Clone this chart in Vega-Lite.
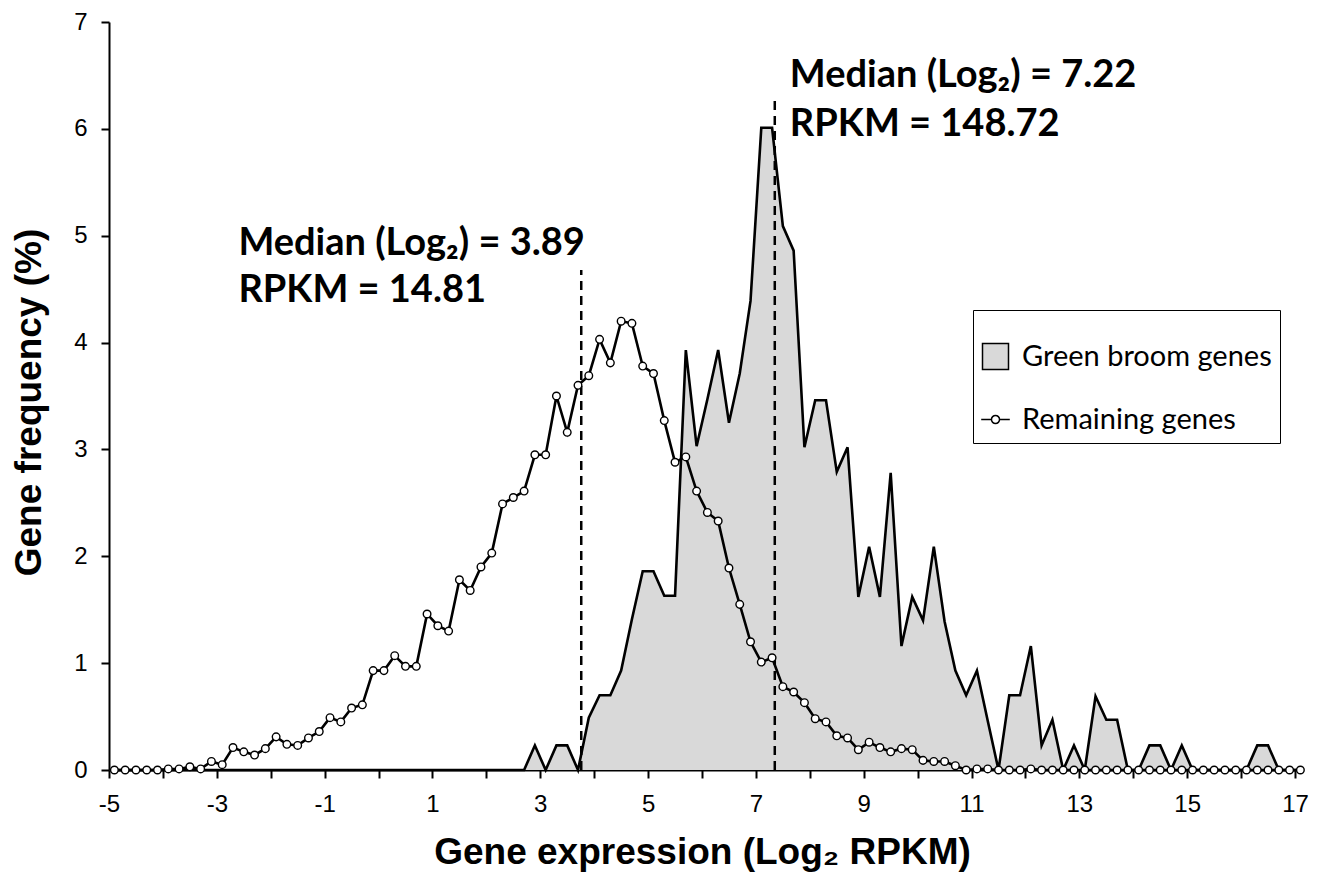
{
  "$schema": "https://vega.github.io/schema/vega-lite/v6.json",
  "width": 1186,
  "height": 748,
  "autosize": {"type": "none"},
  "padding": {"left": 109, "top": 22, "right": 28, "bottom": 105},
  "background": "white",
  "config": {
    "view": {"stroke": null},
    "axis": {"grid": false}
  },
  "datasets": {
    "hist": [
      {"x": -4.9, "green": 0, "remaining": 0},
      {"x": -4.7, "green": 0, "remaining": 0},
      {"x": -4.5, "green": 0, "remaining": 0},
      {"x": -4.3, "green": 0, "remaining": 0},
      {"x": -4.1, "green": 0, "remaining": 0},
      {"x": -3.9, "green": 0, "remaining": 0.01},
      {"x": -3.7, "green": 0, "remaining": 0.01},
      {"x": -3.5, "green": 0, "remaining": 0.03},
      {"x": -3.3, "green": 0, "remaining": 0.01},
      {"x": -3.1, "green": 0, "remaining": 0.08},
      {"x": -2.9, "green": 0, "remaining": 0.05},
      {"x": -2.7, "green": 0, "remaining": 0.21},
      {"x": -2.5, "green": 0, "remaining": 0.17},
      {"x": -2.3, "green": 0, "remaining": 0.14},
      {"x": -2.1, "green": 0, "remaining": 0.2},
      {"x": -1.9, "green": 0, "remaining": 0.31},
      {"x": -1.7, "green": 0, "remaining": 0.24},
      {"x": -1.5, "green": 0, "remaining": 0.23},
      {"x": -1.3, "green": 0, "remaining": 0.3},
      {"x": -1.1, "green": 0, "remaining": 0.36},
      {"x": -0.9, "green": 0, "remaining": 0.49},
      {"x": -0.7, "green": 0, "remaining": 0.45},
      {"x": -0.5, "green": 0, "remaining": 0.58},
      {"x": -0.3, "green": 0, "remaining": 0.61},
      {"x": -0.1, "green": 0, "remaining": 0.93},
      {"x": 0.1, "green": 0, "remaining": 0.93},
      {"x": 0.3, "green": 0, "remaining": 1.07},
      {"x": 0.5, "green": 0, "remaining": 0.97},
      {"x": 0.7, "green": 0, "remaining": 0.97},
      {"x": 0.9, "green": 0, "remaining": 1.46},
      {"x": 1.1, "green": 0, "remaining": 1.35},
      {"x": 1.3, "green": 0, "remaining": 1.3},
      {"x": 1.5, "green": 0, "remaining": 1.78},
      {"x": 1.7, "green": 0, "remaining": 1.68},
      {"x": 1.9, "green": 0, "remaining": 1.9},
      {"x": 2.1, "green": 0, "remaining": 2.03},
      {"x": 2.3, "green": 0, "remaining": 2.49},
      {"x": 2.5, "green": 0, "remaining": 2.55},
      {"x": 2.7, "green": 0, "remaining": 2.61},
      {"x": 2.9, "green": 0.23, "remaining": 2.95},
      {"x": 3.1, "green": 0, "remaining": 2.95},
      {"x": 3.3, "green": 0.23, "remaining": 3.5},
      {"x": 3.5, "green": 0.23, "remaining": 3.16},
      {"x": 3.7, "green": 0, "remaining": 3.6},
      {"x": 3.9, "green": 0.49, "remaining": 3.69},
      {"x": 4.1, "green": 0.7, "remaining": 4.03},
      {"x": 4.3, "green": 0.7, "remaining": 3.81},
      {"x": 4.5, "green": 0.93, "remaining": 4.2},
      {"x": 4.7, "green": 1.41, "remaining": 4.18},
      {"x": 4.9, "green": 1.86, "remaining": 3.78},
      {"x": 5.1, "green": 1.86, "remaining": 3.71},
      {"x": 5.3, "green": 1.63, "remaining": 3.27},
      {"x": 5.5, "green": 1.63, "remaining": 2.88},
      {"x": 5.7, "green": 3.93, "remaining": 2.93},
      {"x": 5.9, "green": 3.03, "remaining": 2.61},
      {"x": 6.1, "green": 3.47, "remaining": 2.41},
      {"x": 6.3, "green": 3.93, "remaining": 2.33},
      {"x": 6.5, "green": 3.25, "remaining": 1.89},
      {"x": 6.7, "green": 3.71, "remaining": 1.55},
      {"x": 6.9, "green": 4.39, "remaining": 1.2},
      {"x": 7.1, "green": 6.01, "remaining": 1.01},
      {"x": 7.3, "green": 6.01, "remaining": 1.05},
      {"x": 7.5, "green": 5.09, "remaining": 0.78},
      {"x": 7.7, "green": 4.86, "remaining": 0.73},
      {"x": 7.9, "green": 3.02, "remaining": 0.63},
      {"x": 8.1, "green": 3.46, "remaining": 0.48},
      {"x": 8.3, "green": 3.46, "remaining": 0.45},
      {"x": 8.5, "green": 2.79, "remaining": 0.32},
      {"x": 8.7, "green": 3.02, "remaining": 0.3},
      {"x": 8.9, "green": 1.62, "remaining": 0.19},
      {"x": 9.1, "green": 2.09, "remaining": 0.26},
      {"x": 9.3, "green": 1.62, "remaining": 0.21},
      {"x": 9.5, "green": 2.78, "remaining": 0.17},
      {"x": 9.7, "green": 1.16, "remaining": 0.2},
      {"x": 9.9, "green": 1.62, "remaining": 0.19},
      {"x": 10.1, "green": 1.4, "remaining": 0.09},
      {"x": 10.3, "green": 2.09, "remaining": 0.08},
      {"x": 10.5, "green": 1.39, "remaining": 0.08},
      {"x": 10.7, "green": 0.93, "remaining": 0.04},
      {"x": 10.9, "green": 0.7, "remaining": 0},
      {"x": 11.1, "green": 0.93, "remaining": 0.01},
      {"x": 11.3, "green": 0.46, "remaining": 0.01},
      {"x": 11.5, "green": 0, "remaining": 0},
      {"x": 11.7, "green": 0.7, "remaining": 0},
      {"x": 11.9, "green": 0.7, "remaining": 0},
      {"x": 12.1, "green": 1.16, "remaining": 0.01},
      {"x": 12.3, "green": 0.23, "remaining": 0},
      {"x": 12.5, "green": 0.47, "remaining": 0},
      {"x": 12.7, "green": 0, "remaining": 0},
      {"x": 12.9, "green": 0.23, "remaining": 0},
      {"x": 13.1, "green": 0, "remaining": 0},
      {"x": 13.3, "green": 0.69, "remaining": 0},
      {"x": 13.5, "green": 0.47, "remaining": 0},
      {"x": 13.7, "green": 0.47, "remaining": 0},
      {"x": 13.9, "green": 0, "remaining": 0},
      {"x": 14.1, "green": 0, "remaining": 0},
      {"x": 14.3, "green": 0.23, "remaining": 0},
      {"x": 14.5, "green": 0.23, "remaining": 0},
      {"x": 14.7, "green": 0, "remaining": 0},
      {"x": 14.9, "green": 0.23, "remaining": 0},
      {"x": 15.1, "green": 0, "remaining": 0},
      {"x": 15.3, "green": 0, "remaining": 0},
      {"x": 15.5, "green": 0, "remaining": 0},
      {"x": 15.7, "green": 0, "remaining": 0},
      {"x": 15.9, "green": 0, "remaining": 0},
      {"x": 16.1, "green": 0, "remaining": 0},
      {"x": 16.3, "green": 0.23, "remaining": 0},
      {"x": 16.5, "green": 0.23, "remaining": 0},
      {"x": 16.7, "green": 0, "remaining": 0},
      {"x": 16.9, "green": 0, "remaining": 0},
      {"x": 17.1, "green": 0, "remaining": 0}
    ],
    "medians": [
      {"x": 3.76, "y": 0, "y2": 4.68},
      {"x": 7.35, "y": 0, "y2": 6.28}
    ],
    "notes": [
      {"x": -2.6, "y": 4.82, "label": "Median (Log₂) = 3.89"},
      {"x": -2.6, "y": 4.38, "label": "RPKM = 14.81"},
      {"x": 7.63, "y": 6.39, "label": "Median (Log₂) = 7.22"},
      {"x": 7.63, "y": 5.93, "label": "RPKM = 148.72"}
    ],
    "legendrows": [
      {"series": "Green broom genes"},
      {"series": "Remaining genes"}
    ]
  },
  "layer": [
    {
      "data": {"name": "hist"},
      "mark": {"type": "area", "color": "#d9d9d9", "opacity": 1, "clip": false, "line": {"color": "black", "strokeWidth": 2.6}},
      "encoding": {
        "x": {
          "field": "x", "type": "quantitative",
          "scale": {"domain": [-5, 17], "nice": false, "zero": false},
          "axis": {
            "values": [-5, -4, -3, -2, -1, 0, 1, 2, 3, 4, 5, 6, 7, 8, 9, 10, 11, 12, 13, 14, 15, 16, 17],
            "labelExpr": "datum.value % 2 === 0 ? '' : '' + datum.value",
            "title": "Gene expression (Log₂ RPKM)",
            "titleFont": "Liberation Sans", "titleFontSize": 37, "titleFontWeight": "bold", "titleColor": "black",
            "titleX": 593, "titleY": 93, "titleBaseline": "alphabetic", "titleAlign": "center", "titleAnchor": null,
            "labelFont": "Liberation Sans", "labelFontSize": 24, "labelColor": "black", "labelPadding": 14,
            "labelFlush": false, "labelOverlap": false, "labelAngle": 0, "labelBaseline": "top",
            "tickSize": 8, "tickWidth": 2, "tickColor": "black",
            "domainColor": "black", "domainWidth": 2
          }
        },
        "y": {
          "field": "green", "type": "quantitative",
          "scale": {"domain": [0, 7], "nice": false},
          "axis": {
            "values": [0, 1, 2, 3, 4, 5, 6, 7],
            "format": "d",
            "title": "Gene frequency (%)",
            "titleFont": "Liberation Sans", "titleFontSize": 37, "titleFontWeight": "bold", "titleColor": "black",
            "titleX": -69, "titleY": 380, "titleAngle": 270, "titleBaseline": "alphabetic", "titleAlign": "center", "titleAnchor": null,
            "labelFont": "Liberation Sans", "labelFontSize": 24, "labelColor": "black", "labelPadding": 14,
            "tickSize": 8, "tickWidth": 2, "tickColor": "black",
            "domainColor": "black", "domainWidth": 2
          }
        }
      }
    },
    {
      "data": {"name": "medians"},
      "mark": {"type": "rule", "color": "black", "strokeWidth": 2.5, "strokeDash": [9, 6]},
      "encoding": {
        "x": {"field": "x", "type": "quantitative"},
        "y": {"field": "y", "type": "quantitative"},
        "y2": {"field": "y2"}
      }
    },
    {
      "data": {"name": "hist"},
      "mark": {"type": "line", "color": "black", "strokeWidth": 2.6, "clip": false},
      "encoding": {
        "x": {"field": "x", "type": "quantitative"},
        "y": {"field": "remaining", "type": "quantitative"}
      }
    },
    {
      "data": {"name": "hist"},
      "mark": {"type": "point", "shape": "circle", "filled": true, "fill": "white", "stroke": "black", "strokeWidth": 1.4, "size": 58, "opacity": 1, "clip": false},
      "encoding": {
        "x": {"field": "x", "type": "quantitative"},
        "y": {"field": "remaining", "type": "quantitative"}
      }
    },
    {
      "data": {"name": "notes"},
      "mark": {"type": "text", "font": "Lato", "fontWeight": "bold", "fontSize": 38, "align": "left", "baseline": "alphabetic", "color": "black"},
      "encoding": {
        "x": {"field": "x", "type": "quantitative"},
        "y": {"field": "y", "type": "quantitative"},
        "text": {"field": "label"}
      }
    },
    {
      "data": {"name": "legendrows"},
      "transform": [{"filter": "false"}],
      "mark": {"type": "point", "filled": true, "stroke": "black", "strokeWidth": 2, "opacity": 1},
      "encoding": {
        "shape": {
          "field": "series", "type": "nominal",
          "scale": {"domain": ["Green broom genes", "Remaining genes"], "range": ["square", "M-1.1,0H-0.31M0.31,0H1.1M-0.31,0A0.31,0.31 0 1,0 0.31,0A0.31,0.31 0 1,0 -0.31,0Z"]},
          "legend": {
            "title": " ", "titleFontSize": 8, "titlePadding": 16,
            "orient": "none", "legendX": 864, "legendY": 288,
            "padding": 8, "strokeColor": "black", "fillColor": "white",
            "symbolSize": 676, "symbolOpacity": 1,
            "labelFont": "Lato", "labelFontSize": 29, "labelColor": "black", "labelOffset": 12, "labelLimit": 400,
            "rowPadding": 32,
            "encode": {"symbols": {"update": {"stroke": {"value": "black"}, "strokeWidth": {"value": 2}, "opacity": {"value": 1}}}}
          }
        },
        "fill": {
          "field": "series", "type": "nominal",
          "scale": {"domain": ["Green broom genes", "Remaining genes"], "range": ["#d9d9d9", "white"]},
          "legend": {
            "title": " ", "titleFontSize": 8, "titlePadding": 16,
            "orient": "none", "legendX": 864, "legendY": 288,
            "padding": 8, "strokeColor": "black", "fillColor": "white",
            "symbolSize": 676, "symbolOpacity": 1,
            "labelFont": "Lato", "labelFontSize": 29, "labelColor": "black", "labelOffset": 12, "labelLimit": 400,
            "rowPadding": 32,
            "encode": {"symbols": {"update": {"stroke": {"value": "black"}, "strokeWidth": {"value": 2}, "opacity": {"value": 1}}}}
          }
        }
      }
    }
  ]
}
